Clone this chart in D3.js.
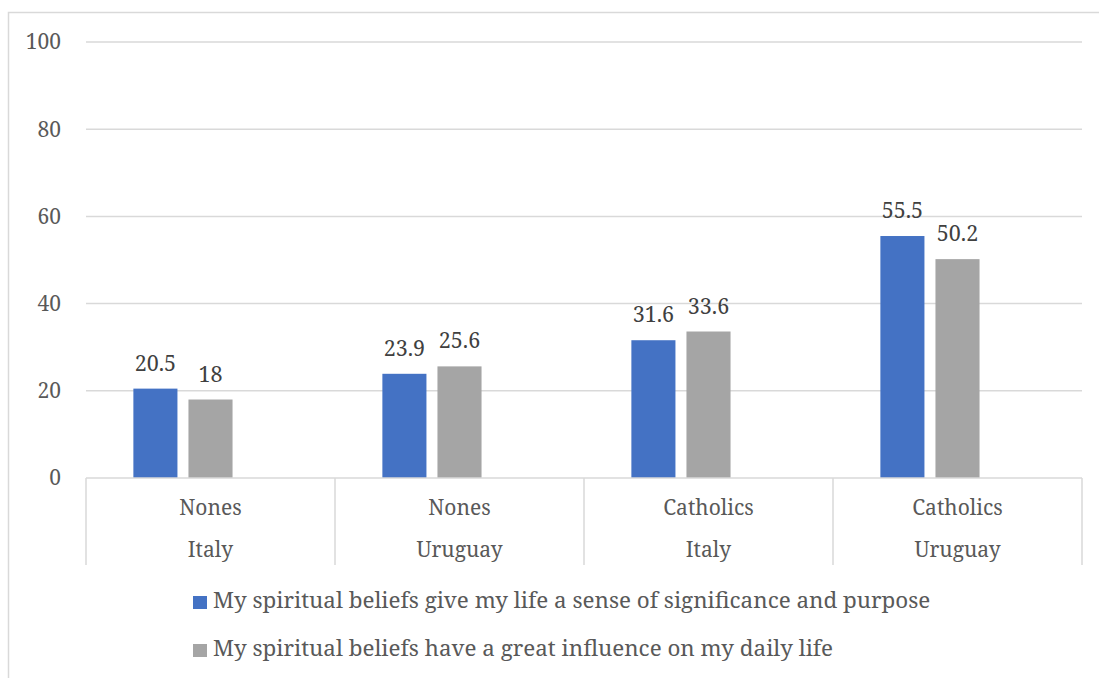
<!DOCTYPE html>
<html>
<head>
<meta charset="utf-8">
<script src="https://cdn.jsdelivr.net/npm/d3@7"></script>
<style>
  html, body { margin: 0; padding: 0; background: #fff; }
</style>
</head>
<body>
<svg id="chart" width="1099" height="678"></svg>
<script>
// Survey shares (%) by religious group and country
const groups = ["Nones", "Nones", "Catholics", "Catholics"];
const countries = ["Italy", "Uruguay", "Italy", "Uruguay"];
const seriesNames = [
  "My spiritual beliefs give my life a sense of significance and purpose",
  "My spiritual beliefs have a great influence on my daily life"
];
const significance = [20.5, 23.9, 31.6, 55.5];
const influence = [18, 25.6, 33.6, 50.2];
const yTicks = [0, 20, 40, 60, 80, 100];
const colors = ["#4472C4", "#A5A5A5"];

const FONT = "'Noto Serif', 'Liberation Serif', serif";
const series = [significance, influence];
const svg = d3.select("#chart");

// outer frame
svg.append("rect")
  .attr("x", 8.5).attr("y", 12.5)
  .attr("width", 1100).attr("height", 700)
  .attr("fill", "none").attr("stroke", "#d9d9d9").attr("stroke-width", 1.5);

const plot = { left: 86, right: 1082, top: 42, bottom: 478 };

const y = d3.scaleLinear().domain([0, 100]).range([plot.bottom, plot.top]);
const x0 = d3.scaleBand().domain(d3.range(groups.length)).range([plot.left, plot.right]);
// three slots per category; bars occupy the first two
const x1 = d3.scaleBand().domain([0, 1, 2]).range([0, x0.bandwidth()])
  .paddingInner(0.2).paddingOuter(0.86);

// gridlines + y labels
const yAxis = svg.append("g");
yAxis.selectAll("line.grid").data(yTicks.filter(t => t > 0)).join("line")
  .attr("class", "grid")
  .attr("x1", plot.left).attr("x2", plot.right)
  .attr("y1", d => y(d)).attr("y2", d => y(d))
  .attr("stroke", "#d9d9d9").attr("stroke-width", 1.5);
yAxis.selectAll("text").data(yTicks).join("text")
  .attr("x", 61).attr("y", d => y(d)).attr("dy", "0.35em")
  .attr("text-anchor", "end")
  .attr("font-family", FONT)
  .attr("font-size", 21).attr("fill", "#595959")
  .text(d => d);

// bars
const bars = svg.append("g");
groups.forEach((g, i) => {
  series.forEach((vals, s) => {
    const v = vals[i];
    const bx = x0(i) + x1(s);
    bars.append("rect")
      .attr("x", bx).attr("width", x1.bandwidth())
      .attr("y", y(v)).attr("height", y(0) - y(v))
      .attr("fill", colors[s]);
    bars.append("text")
      .attr("x", bx + x1.bandwidth() / 2).attr("y", y(v) - 18)
      .attr("text-anchor", "middle")
      .attr("font-family", FONT)
      .attr("font-size", 21.5).attr("fill", "#404040")
      .text(v);
  });
});

// category axis with two label rows
const cat = svg.append("g");
cat.append("line")
  .attr("x1", plot.left).attr("x2", plot.right)
  .attr("y1", y(0)).attr("y2", y(0))
  .attr("stroke", "#d9d9d9").attr("stroke-width", 1.5);
const seps = d3.range(groups.length + 1).map(i => i < groups.length ? x0(i) : plot.right);
cat.selectAll("line.sep").data(seps).join("line")
  .attr("class", "sep")
  .attr("x1", d => d).attr("x2", d => d)
  .attr("y1", y(0)).attr("y2", 565)
  .attr("stroke", "#d9d9d9").attr("stroke-width", 1.5);
cat.selectAll("text.grp").data(groups).join("text")
  .attr("class", "grp")
  .attr("x", (d, i) => x0(i) + x0.bandwidth() / 2).attr("y", 515)
  .attr("text-anchor", "middle")
  .attr("font-family", FONT)
  .attr("font-size", 21).attr("fill", "#595959")
  .text(d => d);
cat.selectAll("text.cty").data(countries).join("text")
  .attr("class", "cty")
  .attr("x", (d, i) => x0(i) + x0.bandwidth() / 2).attr("y", 557)
  .attr("text-anchor", "middle")
  .attr("font-family", FONT)
  .attr("font-size", 21).attr("fill", "#595959")
  .text(d => d);

// legend
const legend = svg.append("g");
seriesNames.forEach((name, s) => {
  const ly = 608 + s * 48;
  legend.append("rect")
    .attr("x", 193).attr("y", ly - 12).attr("width", 14).attr("height", 13)
    .attr("fill", colors[s]);
  legend.append("text")
    .attr("x", 213).attr("y", ly)
    .attr("font-family", FONT)
    .attr("font-size", 22.4).attr("fill", "#595959")
    .text(name);
});
</script>
</body>
</html>
